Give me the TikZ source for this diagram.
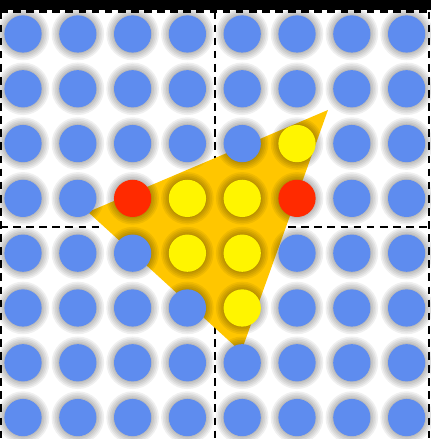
\documentclass[tikz,border=0pt]{standalone}
\usepackage{tikz}
\definecolor{pBlue}{HTML}{5E8CEF}
\definecolor{pTri}{HTML}{FFC600}
\definecolor{pIn}{HTML}{FFF500}
\definecolor{pEdge}{HTML}{FF2A00}
% samples that are covered by the triangle
\pgfkeys{/px/.is family, /px,
  52/.initial={pIn}, 33/.initial={pIn}, 43/.initial={pIn},
  34/.initial={pIn}, 44/.initial={pIn}, 45/.initial={pIn},
  23/.initial={pEdge}, 53/.initial={pEdge}}

\begin{document}
\begin{tikzpicture}[x=1cm, y=-1cm,
  tile/.style={black, line width=1.5pt, dash pattern=on 4pt off 2.8pt},
  dot/.style={circle, inner sep=0pt, minimum size=0.68cm, fill=#1},
  blur/.style={black, opacity=0.06}]
  \useasboundingbox (0,0) rectangle (7.865,8.011);
  \fill[black] (0,0) rectangle (7.865,0.19);
  % tile borders
  \draw[tile] (0,0.21) -- (7.865,0.21);
  \draw[tile] (0,4.142) -- (7.865,4.142);
  \draw[tile] (0.01,0.21) -- (0.01,8.011);
  \draw[tile] (3.923,0.21) -- (3.923,8.011);
  \draw[tile] (7.828,0.21) -- (7.828,8.011);
  % triangle
  \coordinate (ta) at (5.985,2.007);
  \coordinate (tb) at (1.606,3.869);
  \coordinate (tc) at (4.400,6.420);
  \fill[pTri] (ta) -- (tb) -- (tc) -- cycle;
  % sample points
  \foreach \i in {0,...,7}
    \foreach \j in {0,...,7} {
      \pgfkeysifdefined{/px/\i\j}{\pgfkeysgetvalue{/px/\i\j}{\dotcol}}{\def\dotcol{pBlue}}
      \foreach \r in {0.36,0.39,0.42,0.45,0.48}
        \fill[blur] (0.42+\i,0.62+\j) circle (\r);
      \node[dot=\dotcol] (s-\i-\j) at (0.42+\i,0.62+\j) {};
    }
\end{tikzpicture}
\end{document}
